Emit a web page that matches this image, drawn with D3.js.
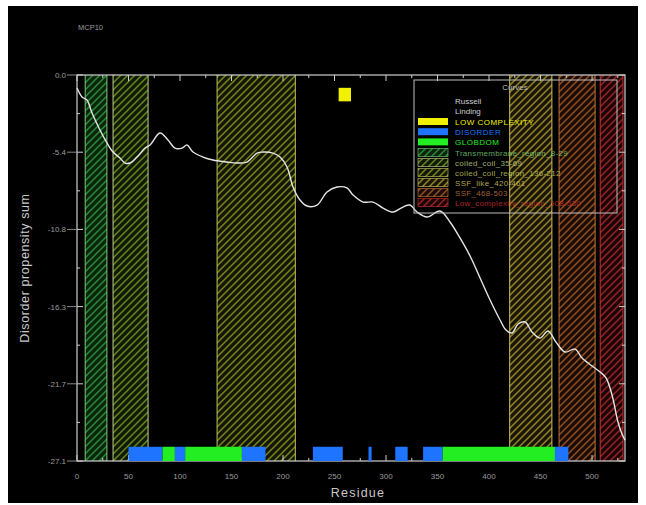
<!DOCTYPE html>
<html>
<head>
<meta charset="utf-8">
<script src="https://cdn.jsdelivr.net/npm/d3@7/dist/d3.min.js"></script>
<style>
  html, body { margin: 0; padding: 0; background: #ffffff; }
  svg { display: block; }
  text { font-family: "Liberation Sans", "DejaVu Sans", sans-serif; }
</style>
</head>
<body>
<svg id="chart" width="646" height="505"></svg>
<script>
// ---------------- data ----------------
const chartTitle = "MCP10";
const residues = [0, 4.9, 9.7, 14.6, 22.3, 29.1, 35.0, 41.7, 46.6, 51.5, 58.3, 66.0, 70.9, 80.6, 88.3, 95.1,
  101.9, 106.8, 112.6, 122.3, 132.0, 145.6, 155.3, 165.0, 174.8, 180.6, 190.3, 197.1, 203.9, 209.7,
  216.5, 223.3, 233.0, 242.7, 252.4, 262.1, 268.0, 277.7, 287.4, 297.1, 306.8, 316.5, 323.3, 330.1,
  339.8, 352.4, 362.1, 371.8, 381.6, 391.3, 401.0, 410.7, 416.5, 422.3, 428.2, 435.0, 441.7, 449.5,
  457.3, 465.0, 473.8, 483.5, 490.3, 500.0, 507.8, 513.6, 519.4, 525.2, 529.1, 532.0];
const propensity = [-0.91, -1.54, -1.76, -2.67, -3.86, -4.77, -5.41, -5.83, -6.18, -6.18, -5.76, -5.13, -4.91, -4.07, -4.56, -5.13,
  -5.13, -4.91, -5.41, -5.76, -5.97, -6.11, -6.18, -6.11, -5.48, -5.41, -5.48, -5.76, -6.46, -7.86,
  -8.78, -9.20, -9.13, -8.21, -7.86, -7.93, -8.43, -8.92, -8.92, -9.34, -9.62, -9.27, -9.13, -9.62,
  -9.97, -9.55, -10.32, -11.44, -12.71, -14.25, -15.80, -17.20, -17.90, -18.11, -17.48, -17.34, -18.04, -18.47,
  -17.97, -18.75, -19.45, -19.24, -19.87, -20.43, -20.85, -21.27, -22.47, -24.36, -25.21, -25.63];

const xTickValues = [0, 50, 100, 150, 200, 250, 300, 350, 400, 450, 500];
const xTickLabels = ["0", "50", "100", "150", "200", "250", "300", "350", "400", "450", "500"];
const yTickValues = [0, -5.42, -10.84, -16.26, -21.68, -27.1];
const yTickLabels = ["0.0", "-5.4", "-10.8", "-16.3", "-21.7", "-27.1"];

const disorderStart = [50, 95, 160, 229, 283, 309, 336, 464];
const disorderEnd   = [83, 105, 183, 258, 286, 321, 355, 477];
const globdomStart = [83, 105, 355];
const globdomEnd   = [95, 160, 464];
const lowComplexStart = [254];
const lowComplexEnd   = [266];

const domainStart = [8, 35, 136, 420, 468, 508];
const domainEnd   = [29, 69, 212, 461, 503, 530];
const domainLabels = ["Transmembrane_region_8-29", "coiled_coil_35-69", "coiled_coil_region_136-212",
  "SSF_like_420-461", "SSF_468-503", "Low_complexity_region_508-530"];

const legendHeader = ["Russell", "Linding"];
const legendBoxLabels = ["LOW COMPLEXITY", "DISORDER", "GLOBDOM"];

// ---------------- styles ----------------
const domainLine = ["#2a8a34", "#62881e", "#7a861a", "#958424", "#924e1e", "#962226"];
const domainEdge = ["#7cd07c", "#c8d890", "#c8cc60", "#d8c860", "#c87840", "#d03030"];
const domainTint = ["#0a240e", "#121a06", "#141706", "#191507", "#1b0c05", "#1e0505"];
const boxColors = ["#f0f000", "#1f74ff", "#22ee22"];

const svg = d3.select("#chart");
const W = 646, H = 505;
const x = d3.scaleLinear().domain([0, 532]).range([77, 625]);
const y = d3.scaleLinear().domain([0, -27.1]).range([75, 461]);

// outer frame
svg.append("rect").attr("x", 0).attr("y", 0).attr("width", W).attr("height", H).attr("fill", "#ffffff");
svg.append("rect").attr("x", 8).attr("y", 6).attr("width", 630).attr("height", 497).attr("fill", "#000000");

// patterns
const defs = svg.append("defs");
domainLine.forEach((c, i) => {
  const p = defs.append("pattern").attr("id", "hatch" + i)
    .attr("patternUnits", "userSpaceOnUse").attr("width", 7).attr("height", 7);
  p.append("rect").attr("width", 7).attr("height", 7).attr("fill", domainTint[i]);
  p.append("path").attr("d", "M0,7 L7,0 M-1,1 L1,-1 M6,8 L8,6")
    .attr("stroke", c).attr("stroke-width", 1.5);
});

// hatched domain regions
const dom = svg.append("g");
domainStart.forEach((s, i) => {
  const e = domainEnd[i];
  dom.append("rect").attr("x", x(s)).attr("y", y(0)).attr("width", x(e) - x(s)).attr("height", y(-27.1) - y(0))
    .attr("fill", "url(#hatch" + i + ")");
  [s, e].forEach(v => dom.append("line").attr("x1", x(v)).attr("x2", x(v)).attr("y1", y(0)).attr("y2", y(-27.1))
    .attr("stroke", domainEdge[i]).attr("stroke-width", 1.2).attr("opacity", 0.8));
});

// frame & ticks
const axisColor = "#cfcfcf";
const fr = svg.append("g");
fr.append("rect").attr("x", x(0)).attr("y", y(0)).attr("width", x(532) - x(0)).attr("height", y(-27.1) - y(0))
  .attr("fill", "none").attr("stroke", axisColor).attr("stroke-width", 1.2);

const minorX = d3.range(25, 532, 50);
xTickValues.forEach(v => {
  fr.append("line").attr("x1", x(v)).attr("x2", x(v)).attr("y1", y(-27.1)).attr("y2", y(-27.1) - 6).attr("stroke", axisColor);
  fr.append("line").attr("x1", x(v)).attr("x2", x(v)).attr("y1", y(0)).attr("y2", y(0) + 6).attr("stroke", axisColor);
});
minorX.forEach(v => {
  fr.append("line").attr("x1", x(v)).attr("x2", x(v)).attr("y1", y(-27.1)).attr("y2", y(-27.1) - 3).attr("stroke", axisColor);
  fr.append("line").attr("x1", x(v)).attr("x2", x(v)).attr("y1", y(0)).attr("y2", y(0) + 3).attr("stroke", axisColor);
});
const minorY = yTickValues.slice(0, -1).map((v, i) => (v + yTickValues[i + 1]) / 2);
yTickValues.forEach(v => {
  fr.append("line").attr("x1", x(0)).attr("x2", x(0) + 6).attr("y1", y(v)).attr("y2", y(v)).attr("stroke", axisColor);
  fr.append("line").attr("x1", x(532)).attr("x2", x(532) - 6).attr("y1", y(v)).attr("y2", y(v)).attr("stroke", axisColor);
  fr.append("line").attr("x1", x(0) - 10).attr("x2", x(0)).attr("y1", y(v)).attr("y2", y(v)).attr("stroke", "#888");
});
minorY.forEach(v => {
  fr.append("line").attr("x1", x(0)).attr("x2", x(0) + 3).attr("y1", y(v)).attr("y2", y(v)).attr("stroke", axisColor);
  fr.append("line").attr("x1", x(532)).attr("x2", x(532) - 3).attr("y1", y(v)).attr("y2", y(v)).attr("stroke", axisColor);
});

// tick labels
xTickValues.forEach((v, i) => {
  svg.append("text").attr("x", x(v)).attr("y", y(-27.1) + 18).attr("text-anchor", "middle")
    .attr("font-size", 8).attr("fill", "#9a9a9a").text(xTickLabels[i]);
});
yTickValues.forEach((v, i) => {
  svg.append("text").attr("x", x(0) - 11).attr("y", y(v) + 3).attr("text-anchor", "end")
    .attr("font-size", 8).attr("fill", "#9a9a9a").text(yTickLabels[i]);
});

// axis titles
svg.append("text").attr("x", (x(0) + x(532)) / 2 + 7).attr("y", 497).attr("text-anchor", "middle")
  .attr("font-size", 12.5).attr("letter-spacing", 1.2).attr("fill", "#c8c8c8").text("Residue");
svg.append("text").attr("transform", "translate(29," + ((y(0) + y(-27.1)) / 2) + ") rotate(-90)")
  .attr("text-anchor", "middle").attr("font-size", 12.5).attr("letter-spacing", 0.6).attr("fill", "#c8c8c8")
  .text("Disorder propensity sum");
svg.append("text").attr("x", 78).attr("y", 30).attr("font-size", 7.5).attr("fill", "#9a9a9a").text(chartTitle);

// bars: disorder / globdom / low complexity
const bars = svg.append("g");
disorderStart.forEach((s, i) => bars.append("rect").attr("x", x(s)).attr("y", y(-26.1))
  .attr("width", x(disorderEnd[i]) - x(s)).attr("height", y(-27.1) - y(-26.1)).attr("fill", boxColors[1]));
globdomStart.forEach((s, i) => bars.append("rect").attr("x", x(s)).attr("y", y(-26.1))
  .attr("width", x(globdomEnd[i]) - x(s)).attr("height", y(-27.1) - y(-26.1)).attr("fill", boxColors[2]));
lowComplexStart.forEach((s, i) => bars.append("rect").attr("x", x(s)).attr("y", y(-0.9))
  .attr("width", x(lowComplexEnd[i]) - x(s)).attr("height", y(-1.85) - y(-0.9)).attr("fill", boxColors[0]));

// curve
const pts = residues.map((r, i) => [r, propensity[i]]);
svg.append("path").datum(pts)
  .attr("d", d3.line().x(d => x(d[0])).y(d => y(d[1])).curve(d3.curveCatmullRom.alpha(0.5)))
  .attr("fill", "none").attr("stroke", "#e4e4e4").attr("stroke-width", 1.4);

// legend
const lg = svg.append("g");
lg.append("rect").attr("x", 414).attr("y", 80).attr("width", 203).attr("height", 133)
  .attr("fill", "none").attr("stroke", "#bdbdbd").attr("stroke-width", 1);
lg.append("text").attr("x", 515).attr("y", 90).attr("text-anchor", "middle").attr("font-size", 8)
  .attr("fill", "#bdbdbd").text("Curves");
legendHeader.forEach((t, i) => lg.append("text").attr("x", 455).attr("y", 104 + i * 10)
  .attr("font-size", 8).attr("fill", "#cfcfcf").text(t));
legendBoxLabels.forEach((t, i) => {
  const yy = 118 + i * 10.2;
  lg.append("rect").attr("x", 418).attr("y", yy).attr("width", 30).attr("height", 7).attr("fill", boxColors[i]);
  lg.append("text").attr("x", 455).attr("y", yy + 7).attr("font-size", 8).attr("letter-spacing", 0.5)
    .attr("fill", boxColors[i]).text(t);
});
domainLabels.forEach((t, i) => {
  const yy = 148.6 + i * 10;
  lg.append("rect").attr("x", 418).attr("y", yy).attr("width", 30).attr("height", 8)
    .attr("fill", "url(#hatch" + i + ")").attr("stroke", domainEdge[i]).attr("stroke-width", 0.6);
  lg.append("text").attr("x", 455).attr("y", yy + 7).attr("font-size", 8).attr("letter-spacing", 0.3)
    .attr("fill", domainEdge[i]).attr("opacity", 0.8).text(t);
});
</script>
</body>
</html>
